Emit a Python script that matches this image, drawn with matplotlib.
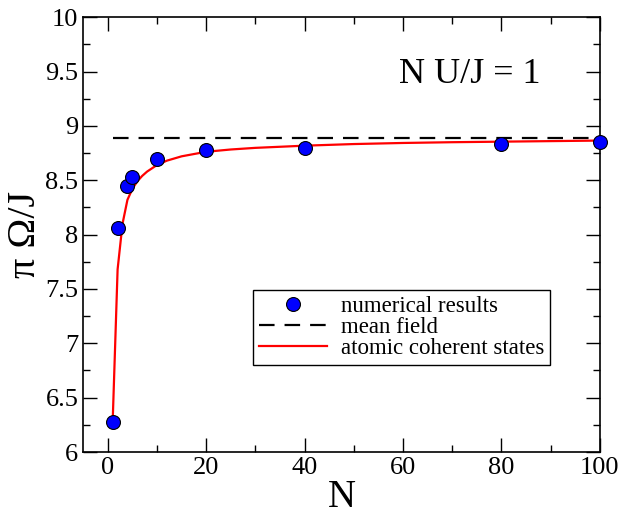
import matplotlib.pyplot as plt
from matplotlib.ticker import MultipleLocator

plt.rcParams['font.family'] = ['Liberation Serif', 'DejaVu Serif']

# numerical results
N_num = [1, 2, 4, 5, 10, 20, 40, 80, 100]
omega_num = [6.28, 8.06, 8.45, 8.53, 8.70, 8.78, 8.80, 8.83, 8.85]

# mean field
N_mf = [1, 100]
omega_mf = [8.885, 8.885]

# atomic coherent states
N_acs = [1, 2, 3, 4, 5, 6, 7, 8, 10, 12, 15, 20, 25, 30, 40, 50, 60, 70, 80, 90, 100]
omega_acs = [6.28, 7.68, 8.10, 8.32, 8.42, 8.49, 8.54, 8.58, 8.64, 8.68, 8.72, 8.762,
             8.783, 8.798, 8.818, 8.833, 8.843, 8.85, 8.855, 8.86, 8.865]

fig = plt.figure(figsize=(6.3, 5.21), dpi=100)
ax = fig.add_axes([0.132, 0.1324, 0.82, 0.8346])

ax.plot(N_num, omega_num, 'o', color='#0000ff', markeredgecolor='black',
        markeredgewidth=0.8, markersize=10, label='numerical results', zorder=3,
        clip_on=False)
ax.plot(N_mf, omega_mf, '--', color='black', lw=1.6, dashes=(7, 4.5), label='mean field')
ax.plot(N_acs, omega_acs, '-', color='red', lw=1.6, label='atomic coherent states')

ax.set_xlim(-5, 100)
ax.set_ylim(6, 10)
ax.xaxis.set_major_locator(MultipleLocator(20))
ax.xaxis.set_minor_locator(MultipleLocator(10))
ax.yaxis.set_minor_locator(MultipleLocator(0.25))
ax.set_yticks([6, 6.5, 7, 7.5, 8, 8.5, 9, 9.5, 10])
ax.set_yticklabels(['6', '6.5', '7', '7.5', '8', '8.5', '9', '9.5', '10'])
ax.tick_params(which='both', direction='in', top=True, right=True, labelsize=19, width=1)
ax.tick_params(which='major', length=10)
ax.tick_params(which='minor', length=5)
for s in ax.spines.values():
    s.set_linewidth(1.2)

ax.set_xlabel('N', fontsize=28, labelpad=0)
ax.set_ylabel('π Ω/J', fontsize=29, labelpad=1)

ax.text(73.5, 9.47, 'N U/J = 1', fontsize=26, ha='center', va='center')

leg = ax.legend(loc='lower left', bbox_to_anchor=(0.329, 0.2), fontsize=16.5,
                frameon=True, fancybox=False, edgecolor='black', framealpha=1,
                handlelength=2.97, handletextpad=0.6, borderpad=0.25, labelspacing=0.0,
                borderaxespad=0, numpoints=1)
leg.get_frame().set_linewidth(1.0)

fig.savefig('out.png', dpi=100)
